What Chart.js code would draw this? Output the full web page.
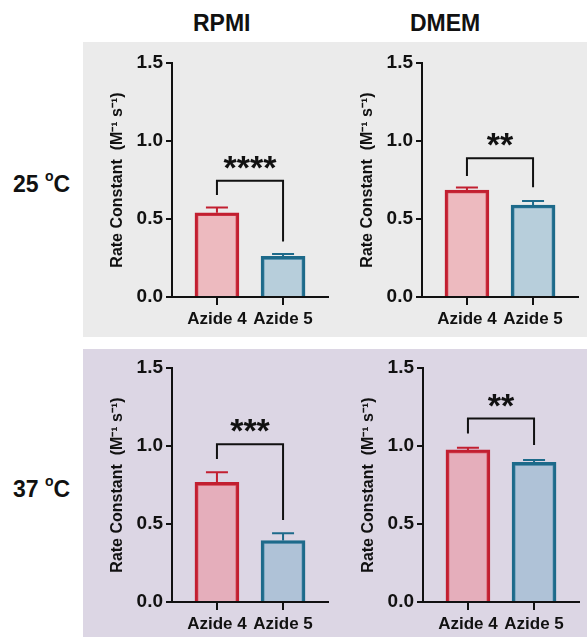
<!DOCTYPE html>
<html>
<head>
<meta charset="utf-8">
<script src="https://cdn.jsdelivr.net/npm/chart.js@4.4.1/dist/chart.umd.min.js"></script>
<style>
  body { margin: 0; width: 587px; height: 637px; position: relative; overflow: hidden; background: #fff;
         font-family: "Liberation Sans", Arial, sans-serif; }
  .bg { position: absolute; left: 83px; right: 0; }
  #bgTop { top: 42px; height: 295px; background: #ebebeb; }
  #bgBot { top: 349px; height: 288px; background: #dcd6e4; }
  .hd { position: absolute; font-weight: bold; font-size: 23px; color: #111; white-space: nowrap; }
  .hd sup { font-size: 14px; position: relative; top: -2px; }
  .box { position: absolute; width: 240px; height: 290px; }
</style>
</head>
<body>
<div class="bg" id="bgTop"></div>
<div class="bg" id="bgBot"></div>
<div class="hd" style="left:193px;top:10px;">RPMI</div>
<div class="hd" style="left:410px;top:10px;">DMEM</div>
<div class="hd" style="left:13px;top:170px;">25 <sup>o</sup>C</div>
<div class="hd" style="left:13px;top:475px;">37 <sup>o</sup>C</div>
<div class="box" style="left:95px;top:45px;"><canvas id="cRpmi25" width="240" height="290"></canvas></div>
<div class="box" style="left:345px;top:45px;"><canvas id="cDmem25" width="240" height="290"></canvas></div>
<div class="box" style="left:95px;top:350px;"><canvas id="cRpmi37" width="240" height="290"></canvas></div>
<div class="box" style="left:346px;top:350px;"><canvas id="cDmem37" width="240" height="290"></canvas></div>
<script>
  // categories and tick labels
  const categories = ['Azide 4', 'Azide 5'];
  const yTicks = [0, 0.5, 1.0, 1.5];

  // bar means and error (SD)
  const rpmi25 = [0.54, 0.26];   const rpmi25Err = [0.033, 0.016];
  const dmem25 = [0.686, 0.59];  const dmem25Err = [0.016, 0.025];
  const rpmi37 = [0.767, 0.394]; const rpmi37Err = [0.064, 0.047];
  const dmem37 = [0.975, 0.895]; const dmem37Err = [0.014, 0.015];

  // significance brackets: [top, left leg end, right leg end]
  const rpmi25Bracket = [0.745, 0.654, 0.355];
  const dmem25Bracket = [0.889, 0.776, 0.703];
  const rpmi37Bracket = [1.012, 0.916, 0.526];
  const dmem37Bracket = [1.176, 1.080, 1.006];

  const rpmi25Stars = '****';
  const dmem25Stars = '**';
  const rpmi37Stars = '***';
  const dmem37Stars = '**';

  const RED = '#c21f30', BLUE = '#1d6a8a';
  const RED_FILL = 'rgba(240,120,132,0.42)', BLUE_FILL = 'rgba(112,168,198,0.42)';
  const FONT = '"Liberation Sans", Arial, sans-serif';

  const extrasPlugin = {
    id: 'extras',
    afterDraw(chart) {
      const { ctx, scales: { x, y } } = chart;
      const o = chart.options.plugins.extras;
      ctx.save();
      // x tick marks under each category
      const yBase = chart.chartArea.bottom;
      ctx.strokeStyle = '#111';
      ctx.lineWidth = 2;
      categories.forEach((c, i) => {
        const px = Math.round(x.getPixelForValue(i + 1));
        ctx.beginPath();
        ctx.moveTo(px, yBase);
        ctx.lineTo(px, yBase + 8);
        ctx.stroke();
      });
      // error bars
      o.values.forEach((v, i) => {
        const px = x.getPixelForValue(i + 1);
        const y0 = y.getPixelForValue(v), y1 = y.getPixelForValue(v + o.errors[i]);
        ctx.strokeStyle = i === 0 ? RED : BLUE;
        ctx.lineWidth = 2;
        ctx.beginPath();
        ctx.moveTo(px, y0); ctx.lineTo(px, y1);
        ctx.moveTo(px - 11, y1); ctx.lineTo(px + 11, y1);
        ctx.stroke();
      });
      // bracket
      const [top, l, r] = o.bracket;
      const xl = x.getPixelForValue(1), xr = x.getPixelForValue(2);
      const yt = y.getPixelForValue(top);
      ctx.strokeStyle = '#111';
      ctx.lineWidth = 2;
      ctx.beginPath();
      ctx.moveTo(xl, y.getPixelForValue(l));
      ctx.lineTo(xl, yt); ctx.lineTo(xr, yt);
      ctx.lineTo(xr, y.getPixelForValue(r));
      ctx.stroke();
      ctx.fillStyle = '#111';
      ctx.font = 'bold 34px ' + FONT;
      ctx.textAlign = 'center';
      ctx.textBaseline = 'alphabetic';
      ctx.fillText(o.stars, (xl + xr) / 2, yt - 2);
      ctx.restore();
    }
  };

  function makeChart(id, values, errors, bracket, stars) {
    new Chart(document.getElementById(id), {
      type: 'bar',
      data: {
        datasets: [{
          data: values.map((v, i) => ({ x: i + 1, y: v })),
          backgroundColor: [RED_FILL, BLUE_FILL],
          borderColor: [RED, BLUE],
          borderWidth: 3,
          barThickness: 44,
        }],
      },
      options: {
        responsive: false,
        animation: false,
        layout: { padding: { top: 18, right: 7, left: 0, bottom: 0 } },
        plugins: {
          legend: { display: false },
          tooltip: { enabled: false },
          extras: { values, errors, bracket, stars },
        },
        scales: {
          x: {
            type: 'linear', min: 0.32, max: 2.68, offset: false,
            afterBuildTicks: (s) => { s.ticks = [1, 2].map((v) => ({ value: v })); },
            afterFit: (s) => { s.height = 38; s.paddingLeft = 0; s.paddingRight = 0; },
            ticks: { callback: (v) => categories[v - 1], color: '#111', font: { family: FONT, size: 17, weight: 'bold' }, padding: 5, maxRotation: 0, autoSkip: false },
            grid: { offset: false, drawOnChartArea: false, tickLength: 7, color: '#111', lineWidth: 2 },
            border: { color: '#111', width: 2 },
          },
          y: {
            min: 0, max: 1.5,
            afterBuildTicks: (s) => { s.ticks = yTicks.map((v) => ({ value: v })); },
            afterFit: (s) => { s.width = 77; },
            ticks: { callback: (v) => v.toFixed(1), color: '#111', font: { family: FONT, size: 19, weight: 'bold' }, padding: 3 },
            grid: { drawOnChartArea: false, tickLength: 6, color: '#111', lineWidth: 2 },
            border: { color: '#111', width: 2 },
            title: { display: true, text: 'Rate Constant  (M\u207B\u00B9 s\u207B\u00B9)', color: '#111', font: { family: FONT, size: 16, weight: 'bold' }, padding: { top: 13, bottom: 0 } },
          },
        },
      },
      plugins: [extrasPlugin],
    });
  }

  makeChart('cRpmi25', rpmi25, rpmi25Err, rpmi25Bracket, rpmi25Stars);
  makeChart('cDmem25', dmem25, dmem25Err, dmem25Bracket, dmem25Stars);
  makeChart('cRpmi37', rpmi37, rpmi37Err, rpmi37Bracket, rpmi37Stars);
  makeChart('cDmem37', dmem37, dmem37Err, dmem37Bracket, dmem37Stars);
</script>
</body>
</html>
